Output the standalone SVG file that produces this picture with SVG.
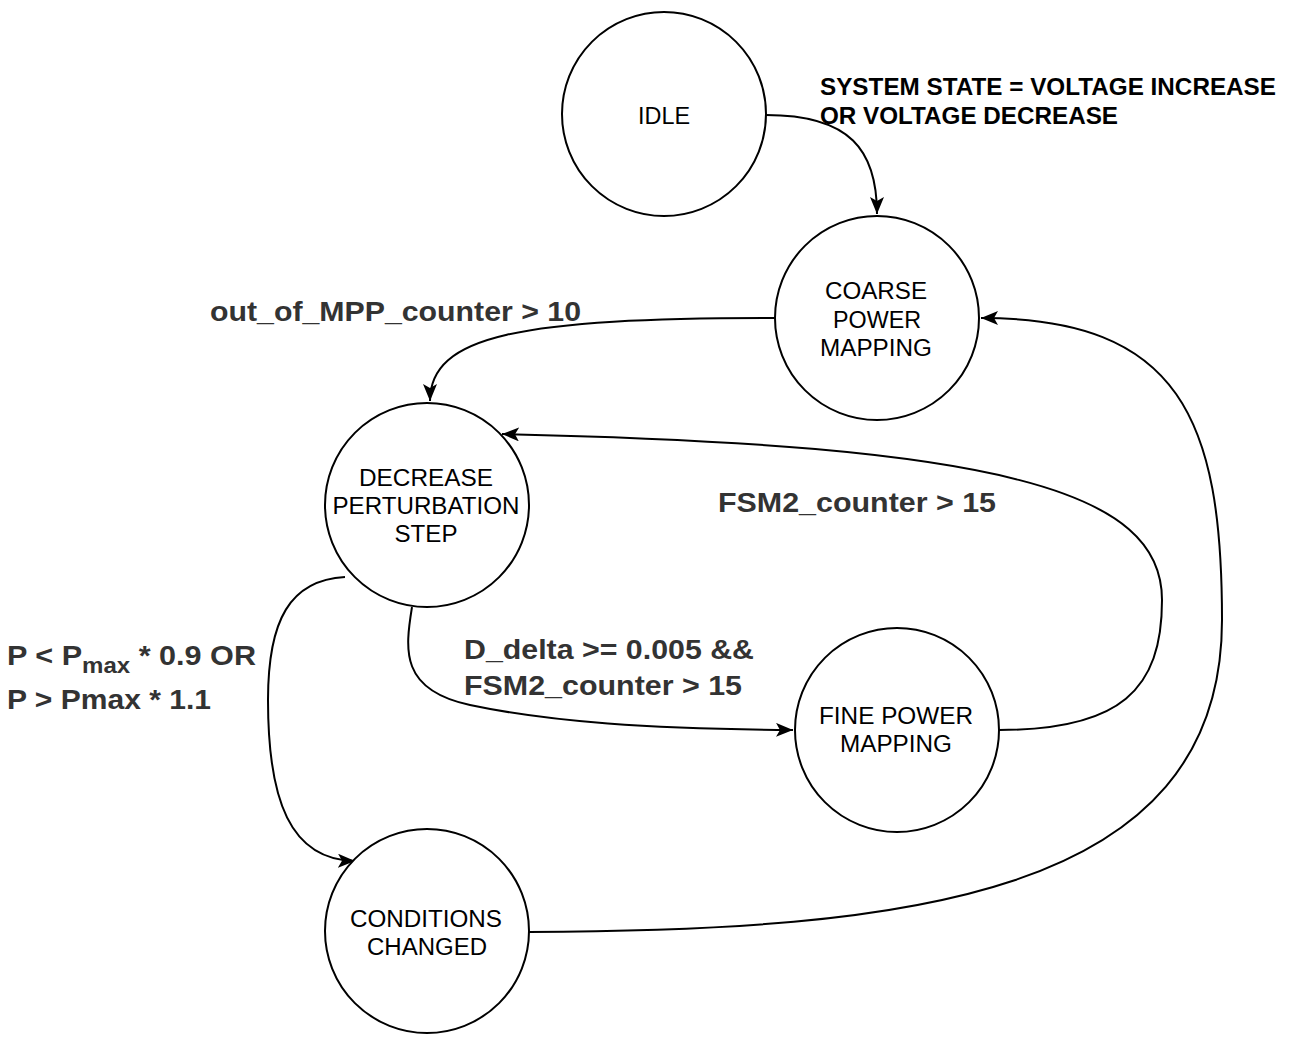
<svg xmlns="http://www.w3.org/2000/svg" width="1293" height="1045" viewBox="0 0 1293 1045">
<style>
.node{fill:#fff;stroke:#000;stroke-width:2}
.nt{font-family:"Liberation Sans",Arial,sans-serif;font-size:23px;fill:#000;text-anchor:middle}
.edge{fill:none;stroke:#000;stroke-width:2;marker-end:url(#arr)}
.lbl{font-family:"Liberation Sans",Arial,sans-serif;font-size:28px;font-weight:bold;fill:#333}
.lbl2{font-family:"Liberation Sans",Arial,sans-serif;font-size:23px;font-weight:bold;fill:#000}
</style>
<defs>
<marker id="arr" markerUnits="userSpaceOnUse" markerWidth="20" markerHeight="16" refX="17" refY="7" orient="auto">
<path d="M0,0 L17,7 L0,14 L4,7 z" fill="#000"/>
</marker>
</defs>
<rect width="1293" height="1045" fill="#fff"/>
<g id="connectors">
<path class="edge" d="M766,115 C850,115 877,150 877,214"/>
<path class="edge" d="M775,318 C520,318 430,335 430,401"/>
<path class="edge" d="M999,730 C1120,730 1162,690 1162,600 C1162,490 1000,445 502,434"/>
<path class="edge" d="M412,607 C405,650 400,690 470,705 C550,722 650,729 793,730"/>
<path class="edge" d="M345,577 C290,580 268,620 268,700 C268,800 290,860 355,861"/>
<path class="edge" d="M529,932 C900,930 1222,900 1222,620 C1222,420 1180,318 981,318"/>
</g>
<g id="idle"><circle class="node" cx="664" cy="114" r="102"/><text class="nt" x="664" y="124" textLength="52" lengthAdjust="spacingAndGlyphs">IDLE</text></g>
<g id="coarse"><circle class="node" cx="877" cy="318" r="102"/><text class="nt" x="876" y="299" textLength="102" lengthAdjust="spacingAndGlyphs">COARSE</text><text class="nt" x="877" y="328" textLength="88" lengthAdjust="spacingAndGlyphs">POWER</text><text class="nt" x="876" y="356" textLength="112" lengthAdjust="spacingAndGlyphs">MAPPING</text></g>
<g id="decrease"><circle class="node" cx="427" cy="505" r="102"/><text class="nt" x="426" y="486" textLength="134" lengthAdjust="spacingAndGlyphs">DECREASE</text><text class="nt" x="426" y="514" textLength="187" lengthAdjust="spacingAndGlyphs">PERTURBATION</text><text class="nt" x="426" y="542" textLength="63" lengthAdjust="spacingAndGlyphs">STEP</text></g>
<g id="fine"><circle class="node" cx="897" cy="730" r="102"/><text class="nt" x="896" y="724" textLength="154" lengthAdjust="spacingAndGlyphs">FINE POWER</text><text class="nt" x="896" y="752" textLength="112" lengthAdjust="spacingAndGlyphs">MAPPING</text></g>
<g id="conditions"><circle class="node" cx="427" cy="931" r="102"/><text class="nt" x="426" y="927" textLength="152" lengthAdjust="spacingAndGlyphs">CONDITIONS</text><text class="nt" x="427" y="955" textLength="120" lengthAdjust="spacingAndGlyphs">CHANGED</text></g>
<g id="labels">
<text class="lbl2" x="820" y="95" textLength="456" lengthAdjust="spacingAndGlyphs">SYSTEM STATE = VOLTAGE INCREASE</text>
<text class="lbl2" x="820" y="124" textLength="298" lengthAdjust="spacingAndGlyphs">OR VOLTAGE DECREASE</text>
<text class="lbl" x="210" y="321" textLength="371" lengthAdjust="spacingAndGlyphs">out_of_MPP_counter &gt; 10</text>
<text class="lbl" x="718" y="512" textLength="278" lengthAdjust="spacingAndGlyphs">FSM2_counter &gt; 15</text>
<text class="lbl" x="464" y="659" textLength="290" lengthAdjust="spacingAndGlyphs">D_delta &gt;= 0.005 &amp;&amp;</text>
<text class="lbl" x="464" y="695" textLength="278" lengthAdjust="spacingAndGlyphs">FSM2_counter &gt; 15</text>
<text class="lbl" x="7" y="665" textLength="249" lengthAdjust="spacingAndGlyphs">P &lt; P<tspan font-size="22px" dy="8">max</tspan><tspan dy="-8"> * 0.9 OR</tspan></text>
<text class="lbl" x="7" y="709" textLength="204" lengthAdjust="spacingAndGlyphs">P &gt; Pmax * 1.1</text>
</g>
</svg>
